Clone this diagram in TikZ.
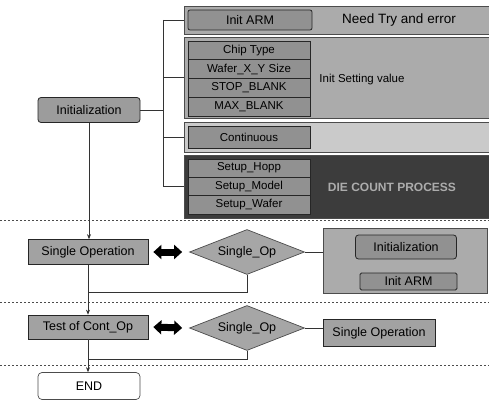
\documentclass[tikz,border=0pt]{standalone}
\usepackage{fontspec}
\setmainfont{Liberation Sans}
\usetikzlibrary{arrows.meta,positioning,shapes.geometric,calc}
\definecolor{panelGray}{HTML}{ABABAB}
\definecolor{panelLight}{HTML}{CACACA}
\definecolor{panelDark}{HTML}{3C3C3C}
\definecolor{boxGray}{HTML}{919191}
\definecolor{diaGray}{HTML}{A6A6A6}

\begin{document}
\begin{tikzpicture}[
    x=1pt, y=-1pt,
    font=\fontsize{12.5}{14}\selectfont,
    panel/.style={
        rectangle,
        draw=black!70,
        line width=0.8pt,
        fill=panelGray,
        inner sep=0pt,
        minimum width=305pt
    },
    item/.style={
        rectangle,
        draw=black!85,
        line width=0.8pt,
        fill=boxGray,
        inner sep=0pt,
        font=\fontsize{11.5}{13}\selectfont,
        minimum width=122pt,
        minimum height=18.5pt
    },
    tag/.style={
        rectangle,
        rounded corners=3pt,
        draw=black!85,
        line width=0.8pt,
        fill=boxGray,
        inner sep=0pt,
        minimum height=24pt
    },
    opbox/.style={
        rectangle,
        draw=black!85,
        line width=0.7pt,
        fill=boxGray!85,
        inner sep=0pt,
        minimum width=120pt,
        minimum height=25pt
    },
    decision/.style={
        diamond,
        aspect=2.5,
        draw=black!70,
        line width=0.7pt,
        fill=diaGray,
        inner sep=0pt,
        minimum width=115pt,
        minimum height=45pt
    },
    wire/.style={draw=black!80, line width=0.6pt},
    flow/.style={wire, -{Stealth[length=5pt,width=4pt]}},
    swap/.style={
        {Triangle[length=8pt,width=14pt]}-{Triangle[length=8pt,width=14pt]},
        line width=7pt,
        draw=black
    },
    sep/.style={draw=black!70, line width=0.6pt, dash pattern=on 2pt off 2pt}
]
\useasboundingbox (0,0) rectangle (489,401);

% -------------------- Initialization tree ---------------------
\node[tag, fill=boxGray!90, minimum width=102pt, minimum height=25pt] (init) at (89,110) {Initialization};

\node[panel, minimum height=28pt] (p1) at (336.5,20) {};
\node[tag, rounded corners=2pt, minimum width=124pt, minimum height=20pt] (arm) at (250,20) {Init ARM};
\node[font=\fontsize{13.5}{15}\selectfont] at (399,20) {Need Try and error};

\node[panel, minimum height=81pt] (p2) at (336.5,77.5) {};
\foreach \lbl [count=\i] in {Chip Type, Wafer\_X\_Y Size, STOP\_BLANK, MAX\_BLANK}
  \node[item, minimum height=18.75pt] (set\i) at (249,31.625+18.75*\i) {\lbl};
\node[font=\fontsize{11.5}{13}\selectfont] at (362,80) {Init Setting value};

\node[panel, fill=panelLight, minimum height=30pt] (p3) at (336.5,137) {};
\node[item, minimum height=22pt] (cont) at (249,137) {Continuous};

\node[panel, fill=panelDark, minimum height=63pt] (p4) at (336.5,186.5) {};
\foreach \lbl [count=\i] in {Setup\_Hopp, Setup\_Model, Setup\_Wafer}
  \node[item, minimum height=18.33pt] (setup\i) at (249,149.8+18.33*\i) {\lbl};
\node[text=gray!65, font=\fontsize{12}{14}\selectfont\bfseries] at (392,187) {DIE COUNT PROCESS};

% -------------------- Single operation ------------------------
\node[opbox] (sop) at (88,252) {Single Operation};
\node[decision] (dia1) at (247,252) {Single\_Op};
\node[panel, minimum width=164pt, minimum height=65pt] (res1) at (405,260.5) {};
\node[tag, minimum width=101pt, minimum height=24pt] (rinit) at (406,247) {Initialization};
\node[tag, rounded corners=1.5pt, minimum width=97pt, minimum height=17pt] (rarm) at (408.5,281.5) {Init ARM};

% -------------------- Test of continuous ----------------------
\node[opbox, minimum height=24pt] (test) at (88,327) {Test of Cont\_Op};
\node[decision] (dia2) at (247,328) {Single\_Op};
\node[opbox, minimum width=112pt, minimum height=27pt] (res2) at (379,333) {Single Operation};

\node[rectangle, rounded corners=4pt, draw=black!70, line width=0.7pt, fill=white,
      minimum width=102pt, minimum height=27pt] (fin) at (89,386) {END};

% -------------------- Section lines ---------------------------
\draw[sep] (0,220) -- (489,220);
\draw[sep] (0,302) -- (489,302);
\draw[sep] (0,365) -- (489,365);

% -------------------- Flows -----------------------------------
\coordinate (spine) at (163,110);
\draw[wire] (init.east) -- (spine);
\draw[wire] (spine |- p1.west) -- (spine |- p4.west);
\foreach \p in {p1,p2,p3,p4}
  \draw[wire] (spine |- \p.west) -- (\p.west);

\draw[flow] (init.south) -- (init.south |- sop.north);
\draw[swap] ([xshift=5pt]sop.east) -- ([xshift=-7pt]dia1.west);
\draw[wire] (dia1.east) -- (dia1.east -| res1.west);
\draw[wire] (dia1.south) |- ($(sop.south)!.55!(test.north)$);
\draw[flow] (sop.south) -- (sop.south |- test.north);

\draw[swap] ([xshift=5pt]test.east) -- ([xshift=-7pt]dia2.west);
\draw[wire] (dia2.east) -- (dia2.east -| res2.west);
\draw[wire] (dia2.south) |- ($(test.south)!.6!(fin.north)$);
\draw[flow] (test.south) -- (test.south |- fin.north);

\end{tikzpicture}
\end{document}
